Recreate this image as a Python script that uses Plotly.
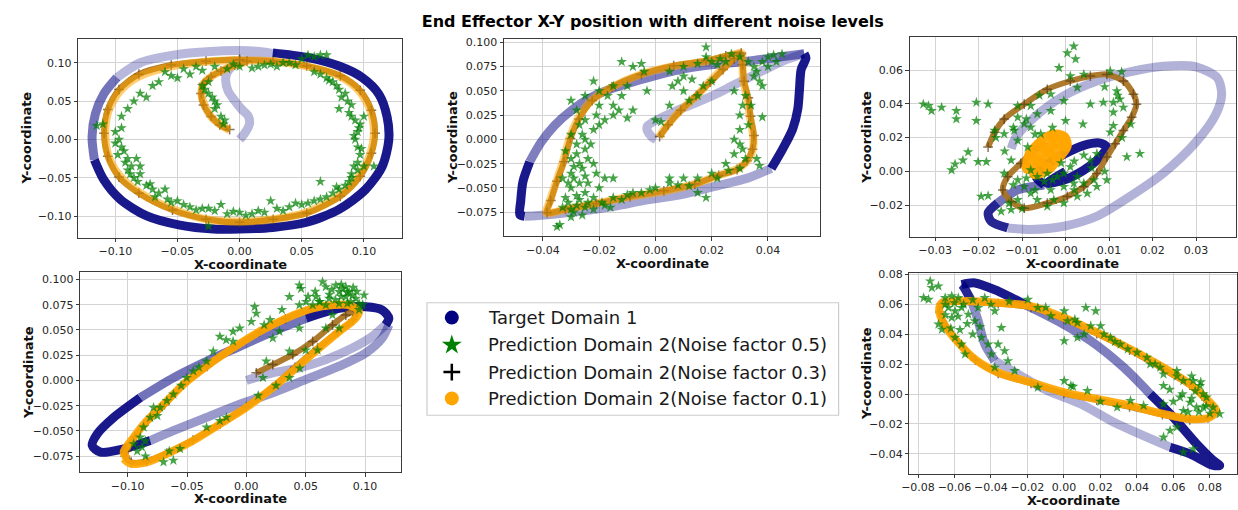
import plotly.graph_objects as go

W, H = 1238, 510

# ---------------------------------------------------------------- data
# tick values
p1_xticks = [-0.10, -0.05, 0.0, 0.05, 0.10]
p1_yticks = [-0.10, -0.05, 0.0, 0.05, 0.10]
p2_xticks = [-0.04, -0.02, 0.0, 0.02, 0.04]
p2_yticks = [-0.075, -0.05, -0.025, 0.0, 0.025, 0.05, 0.075, 0.1]
p3_xticks = [-0.03, -0.02, -0.01, 0.0, 0.01, 0.02, 0.03]
p3_yticks = [-0.02, 0.0, 0.02, 0.04, 0.06]
p4_xticks = [-0.10, -0.05, 0.0, 0.05, 0.10]
p4_yticks = [-0.075, -0.05, -0.025, 0.0, 0.025, 0.05, 0.075, 0.1]
p5_xticks = [-0.08, -0.06, -0.04, -0.02, 0.0, 0.02, 0.04, 0.06, 0.08]
p5_yticks = [-0.04, -0.02, 0.0, 0.02, 0.04, 0.06, 0.08]

series_names = ["Target Domain 1",
                "Prediction Domain 2(Noise factor 0.5)",
                "Prediction Domain 2(Noise factor 0.3)",
                "Prediction Domain 2(Noise factor 0.1)"]

# ---- panel 1
p1_target = [(0.0, 0.0), (0.004, 0.0077), (0.008, 0.0206), (0.0067, 0.0313), (0.0013, 0.0399), (-0.004, 0.0506),
             (-0.0093, 0.0635), (-0.0112, 0.0764), (-0.0101, 0.0871), (-0.0027, 0.1), (0.008, 0.107), (0.0267, 0.1129),
             (0.0, 0.1159), (-0.0267, 0.1142), (-0.0533, 0.1099), (-0.08, 0.1), (-0.0987, 0.0807), (-0.1093, 0.0592),
             (-0.116, 0.0335), (-0.1187, 0.0034), (-0.1168, -0.0266), (-0.1093, -0.0524), (-0.096, -0.0781),
             (-0.0747, -0.0996), (-0.048, -0.1116), (-0.0213, -0.1167), (0.0, -0.1167), (0.0267, -0.1146),
             (0.0533, -0.1082), (0.08, -0.091), (0.1013, -0.0652), (0.1147, -0.0352), (0.12, -0.0009),
             (0.1187, 0.0292), (0.112, 0.0592), (0.0987, 0.0807), (0.08, 0.0957), (0.0533, 0.1073), (0.0267, 0.1129)]
p1_orange = [(-0.008, 0.012), (-0.0147, 0.0185), (-0.0227, 0.0292), (-0.028, 0.0442), (-0.0307, 0.0592),
             (-0.0293, 0.0721), (-0.024, 0.0807), (-0.016, 0.0884), (-0.0053, 0.0957), (0.0053, 0.1013),
             (0.0, 0.103), (-0.0267, 0.1013), (-0.0533, 0.0957), (-0.08, 0.0828), (-0.096, 0.0635), (-0.1053, 0.0378),
             (-0.108, 0.0077), (-0.1053, -0.0223), (-0.096, -0.0481), (-0.08, -0.0695), (-0.0533, -0.091),
             (-0.0267, -0.1039), (0.0, -0.1069), (0.0267, -0.1039), (0.0533, -0.0953), (0.08, -0.0738),
             (0.096, -0.0481), (0.1053, -0.018), (0.108, 0.0077), (0.1053, 0.0378), (0.096, 0.0635), (0.08, 0.0828),
             (0.0533, 0.0957), (0.0267, 0.1021), (0.0, 0.103)]
p1_plus = [(-0.008, 0.013), (-0.016, 0.019), (-0.023, 0.03), (-0.029, 0.045), (-0.031, 0.06), (-0.029, 0.073),
           (-0.023, 0.082), (-0.015, 0.089), (-0.004, 0.097), (0.006, 0.102), (0.0, 0.104), (-0.027, 0.102),
           (-0.055, 0.097), (-0.081, 0.085), (-0.097, 0.065), (-0.106, 0.039), (-0.109, 0.008), (-0.106, -0.022),
           (-0.097, -0.049), (-0.081, -0.07), (-0.054, -0.092), (-0.027, -0.104), (0.0, -0.108), (0.027, -0.104),
           (0.054, -0.096), (0.081, -0.074), (0.097, -0.048), (0.106, -0.018), (0.109, 0.008), (0.106, 0.038),
           (0.097, 0.064), (0.081, 0.083), (0.054, 0.096), (0.027, 0.102), (0.0, 0.104)]
p1_green = [(0.055, 0.11), (0.06, 0.108), (0.065, 0.11), (0.07, 0.11), (0.05, 0.105), (0.04, 0.1), (0.03, 0.095),
            (0.02, 0.097), (0.01, 0.093), (-0.005, 0.098), (-0.02, 0.095), (-0.03, 0.09), (-0.045, 0.092),
            (-0.06, 0.088), (-0.05, 0.08), (-0.03, 0.07), (-0.025, 0.06), (-0.02, 0.05), (-0.02, 0.04),
            (-0.015, 0.03), (-0.013, 0.02), (-0.025, 0.075), (-0.07, 0.07), (-0.08, 0.06), (-0.085, 0.05),
            (-0.09, 0.04), (-0.075, 0.055), (-0.095, 0.03), (-0.115, 0.018), (-0.11, 0.02), (-0.1, 0.01),
            (-0.1, -0.005), (-0.095, -0.01), (-0.098, -0.02), (-0.092, -0.03), (-0.09, -0.04), (-0.085, -0.05),
            (-0.08, -0.045), (-0.087, -0.035), (-0.075, -0.06), (-0.07, -0.065), (-0.065, -0.07), (-0.06, -0.065),
            (-0.083, -0.025), (-0.08, -0.035), (-0.05, -0.08), (-0.045, -0.085), (-0.04, -0.088), (-0.03, -0.09),
            (-0.02, -0.093), (-0.01, -0.097), (0.0, -0.095), (0.01, -0.097), (0.02, -0.095), (0.03, -0.09),
            (0.04, -0.088), (0.05, -0.085), (0.06, -0.08), (0.07, -0.075), (-0.025, -0.113), (0.025, -0.08),
            (-0.015, -0.085), (0.08, -0.065), (0.085, -0.06), (0.09, -0.05), (0.095, -0.04), (0.095, -0.03),
            (0.097, -0.02), (0.095, -0.01), (0.093, 0.0), (0.095, 0.01), (0.097, 0.02), (0.09, 0.03), (0.09, 0.045),
            (0.085, 0.06), (0.08, 0.065), (0.075, 0.075), (0.07, 0.08), (0.06, 0.088), (0.065, 0.085),
            (0.1, -0.035), (0.1, 0.03), (0.088, -0.055), (0.065, -0.055), (0.08, 0.04), (0.108, -0.035),
            (-0.055, -0.082), (-0.035, -0.092), (-0.025, -0.09), (-0.005, -0.094), (0.005, -0.099), (0.015, -0.093),
            (0.035, -0.093), (0.045, -0.083), (0.055, -0.083), (0.065, -0.078), (0.075, -0.07), (0.078, -0.062),
            (0.09, -0.045), (0.092, -0.035), (0.098, -0.012), (0.092, 0.005), (0.096, 0.015), (0.093, 0.025),
            (0.088, 0.035), (0.087, 0.05), (0.082, 0.055), (0.078, 0.07), (0.072, 0.077), (0.045, 0.097),
            (0.035, 0.1), (0.025, 0.098), (0.015, 0.095), (0.0, 0.095), (-0.01, 0.092), (-0.035, 0.095),
            (-0.04, 0.085), (-0.055, 0.083), (-0.065, 0.075), (-0.095, 0.015), (-0.097, 0.0), (-0.093, -0.015),
            (-0.09, -0.025), (-0.088, -0.045), (-0.082, -0.055), (-0.072, -0.058), (-0.068, -0.075),
            (-0.058, -0.078), (-0.028, 0.065), (-0.022, 0.055), (-0.018, 0.045), (-0.012, 0.025)]

# ---- panel 2
p2_target = [(0.0002, 0.0), (-0.0012, 0.0024), (-0.0029, 0.0092), (-0.0029, 0.0136), (0.0088, 0.0313),
             (0.0124, 0.0353), (0.0206, 0.0455), (0.0276, 0.0557), (0.0324, 0.0625), (0.0394, 0.0727),
             (0.0465, 0.0822), (0.0529, 0.0883), (0.0535, 0.0839), (0.0518, 0.072), (0.0512, 0.0517),
             (0.0506, 0.0313), (0.0488, 0.0109), (0.0453, -0.0095), (0.0412, -0.0299), (0.0324, -0.0401),
             (0.0206, -0.0486), (0.0088, -0.0571), (-0.0029, -0.0622), (-0.0147, -0.069), (-0.0265, -0.0741),
             (-0.0382, -0.0775), (-0.0465, -0.0792), (-0.0482, -0.0775), (-0.0479, -0.0639), (-0.0471, -0.0435),
             (-0.0447, -0.0231), (-0.0406, -0.0027), (-0.0359, 0.0143), (-0.03, 0.0296), (-0.0229, 0.0432),
             (-0.0147, 0.0533), (-0.0029, 0.0635), (0.0088, 0.072), (0.0206, 0.0771), (0.0324, 0.0805),
             (0.0441, 0.0849), (0.0529, 0.0883)]
p2_orange = [(0.0012, 0.0024), (0.0041, 0.0143), (0.0088, 0.0296), (0.0147, 0.0449), (0.0194, 0.0601),
             (0.0241, 0.0737), (0.0276, 0.0839), (0.0306, 0.089), (0.0309, 0.0788), (0.0312, 0.0618),
             (0.0324, 0.0449), (0.0335, 0.0245), (0.0347, 0.0041), (0.0347, -0.0095), (0.0329, -0.0214),
             (0.0294, -0.0299), (0.0229, -0.0367), (0.0147, -0.0452), (0.0029, -0.0537), (-0.0088, -0.0588),
             (-0.0206, -0.0656), (-0.0324, -0.0724), (-0.0388, -0.0758), (-0.0376, -0.0639), (-0.0353, -0.0435),
             (-0.0329, -0.0231), (-0.0306, 0.0007), (-0.0276, 0.0211), (-0.0229, 0.0398), (-0.0159, 0.0533),
             (-0.0053, 0.0669), (0.0065, 0.0754), (0.0182, 0.0805), (0.0253, 0.0856), (0.0306, 0.0897)]
p2_plus = [(0.0015, 0.003), (0.0045, 0.015), (0.009, 0.03), (0.0145, 0.045), (0.0195, 0.059), (0.024, 0.072),
           (0.028, 0.083), (0.0305, 0.088), (0.031, 0.077), (0.0315, 0.06), (0.033, 0.043), (0.0338, 0.024),
           (0.035, 0.004), (0.0345, -0.01), (0.0325, -0.022), (0.029, -0.031), (0.0225, -0.037), (0.014, -0.046),
           (0.003, -0.053), (-0.009, -0.059), (-0.021, -0.066), (-0.032, -0.072), (-0.0385, -0.0755),
           (-0.0372, -0.063), (-0.035, -0.043), (-0.0325, -0.023), (-0.0302, 0.001), (-0.0272, 0.021),
           (-0.0225, 0.04), (-0.0155, 0.054), (-0.005, 0.067), (0.0065, 0.076), (0.018, 0.081), (0.025, 0.086),
           (0.0305, 0.089)]
p2_green = [(-0.033, -0.07), (-0.03, -0.072), (-0.028, -0.068), (-0.025, -0.07), (-0.022, -0.072), (-0.035, -0.09),
            (-0.034, -0.088), (-0.03, -0.08), (-0.032, -0.06), (-0.028, -0.058), (-0.025, -0.055), (-0.022, -0.06),
            (-0.03, -0.05), (-0.027, -0.045), (-0.024, -0.045), (-0.02, -0.05), (-0.033, -0.04), (-0.03, -0.035),
            (-0.026, -0.03), (-0.022, -0.025), (-0.018, -0.04), (-0.015, -0.04), (-0.03, -0.02), (-0.028, -0.015),
            (-0.025, -0.01), (-0.028, -0.005), (-0.025, 0.0), (-0.03, 0.005), (-0.022, 0.01), (-0.02, 0.015),
            (-0.027, 0.015), (-0.025, 0.02), (-0.018, 0.02), (-0.015, 0.025), (-0.01, 0.022), (-0.02, 0.035),
            (-0.015, 0.035), (-0.03, 0.04), (-0.025, 0.045), (-0.02, 0.05), (-0.022, 0.06), (-0.015, 0.055),
            (-0.013, 0.03), (-0.008, 0.03), (-0.01, 0.055), (-0.012, 0.08), (-0.008, 0.075), (-0.004, 0.07),
            (-0.005, 0.078), (0.0, 0.02), (0.002, 0.018), (0.005, 0.07), (0.01, 0.075), (0.015, 0.078),
            (0.018, 0.095), (0.018, 0.085), (0.02, 0.08), (0.022, 0.077), (0.025, 0.08), (0.03, 0.085),
            (0.033, 0.08), (0.035, 0.075), (0.038, 0.08), (0.04, 0.085), (0.042, 0.087), (0.045, 0.088),
            (0.04, 0.075), (0.036, 0.07), (0.035, 0.065), (0.037, 0.06), (0.038, 0.055), (0.008, 0.06),
            (0.01, 0.05), (0.012, 0.04), (0.005, 0.035), (0.015, 0.045), (0.017, 0.055), (0.02, 0.06),
            (0.013, 0.062), (0.03, 0.025), (0.03, 0.01), (0.028, 0.0), (0.03, -0.005), (0.028, -0.015),
            (0.032, -0.02), (0.03, -0.03), (0.025, -0.025), (0.036, -0.02), (0.037, -0.027), (0.038, 0.023),
            (0.034, 0.035), (0.032, 0.045), (0.028, 0.05), (0.02, -0.035), (0.015, -0.04), (0.01, -0.04),
            (0.005, -0.045), (0.0, -0.05), (-0.005, -0.055), (-0.01, -0.057), (-0.015, -0.06), (0.015, -0.055),
            (0.018, -0.06), (0.012, -0.048), (-0.018, -0.068), (0.005, -0.04),
            (-0.031, -0.065), (-0.027, -0.062), (-0.024, -0.065), (-0.029, -0.075), (-0.026, -0.078),
            (-0.031, -0.045), (-0.029, -0.04), (-0.025, -0.038), (-0.021, -0.035), (-0.027, -0.025),
            (-0.024, -0.02), (-0.029, -0.028), (-0.032, -0.012), (-0.026, 0.005), (-0.023, -0.005),
            (-0.021, 0.025), (-0.028, 0.03), (-0.017, 0.045), (-0.012, 0.045), (-0.019, -0.065), (-0.016, -0.07),
            (0.023, 0.083), (0.027, 0.088), (0.043, 0.08), (0.031, 0.035), (0.033, 0.015), (0.031, -0.01),
            (0.026, -0.032), (0.022, -0.04), (0.008, -0.047), (-0.002, -0.052), (-0.008, -0.055),
            (-0.012, -0.062), (0.01, 0.065), (0.006, 0.055), (-0.003, 0.05)]

# ---- panel 3
p3_target = [(0.0, 0.0), (-0.0042, -0.007), (-0.0004, -0.0051), (0.0042, 0.0008), (0.008, 0.0086), (0.0095, 0.0144),
             (0.008, 0.0168), (0.0042, 0.0154), (-0.0004, 0.0101), (-0.0049, 0.0027), (-0.0068, -0.0031),
             (-0.0049, -0.008), (-0.011, -0.0109), (-0.0156, -0.0187), (-0.0178, -0.0246), (-0.0171, -0.0295),
             (-0.0133, -0.0334), (-0.008, -0.0343), (-0.0004, -0.0324), (0.0072, -0.0265), (0.0148, -0.0148),
             (0.0224, -0.0012), (0.03, 0.0174), (0.0346, 0.034), (0.0359, 0.0457), (0.0349, 0.0554), (0.03, 0.0619),
             (0.0224, 0.0622), (0.0148, 0.0589), (0.0072, 0.0535), (-0.0004, 0.0447), (-0.0072, 0.032),
             (-0.0114, 0.0203), (-0.0125, 0.0135)]
p3_orange = [(-0.0087, 0.002), (-0.008, 0.01), (-0.006, 0.016), (-0.003, 0.021), (-0.0005, 0.02), (0.0, 0.015),
             (-0.002, 0.008), (-0.004, 0.002), (-0.007, -0.001), (-0.006, 0.006), (-0.004, 0.012), (-0.002, 0.017)]
p3_plus = [(-0.0178, 0.0144), (-0.0163, 0.0232), (-0.0141, 0.031), (-0.0095, 0.0398), (-0.0042, 0.0486),
           (0.0011, 0.0535), (0.0057, 0.0564), (0.0095, 0.0574), (0.0133, 0.0535), (0.0156, 0.0457),
           (0.0163, 0.0398), (0.0152, 0.032), (0.0133, 0.0242), (0.0114, 0.0164), (0.0095, 0.0086),
           (0.0072, -0.0012), (0.0042, -0.009), (0.0004, -0.0148), (-0.0042, -0.0187), (-0.0095, -0.0217),
           (-0.0125, -0.0178), (-0.0144, -0.0109), (-0.0133, -0.0031), (-0.0103, 0.0047), (-0.0072, 0.0125),
           (-0.0049, 0.0164)]
p3_green = [(-0.0327, 0.0398), (-0.0315, 0.0388), (-0.0308, 0.0359), (-0.0285, 0.0379), (-0.0251, 0.0359),
            (-0.0251, 0.031), (-0.0205, 0.0408), (-0.0178, 0.0398), (-0.0205, 0.03), (-0.0224, 0.0115),
            (-0.0236, 0.0066), (-0.0254, 0.0043), (-0.0262, 0.0008), (-0.0201, 0.0057), (-0.0182, 0.0057),
            (-0.0194, -0.0148), (-0.0178, -0.0144), (-0.0148, -0.0236), (-0.0125, -0.0226), (0.0004, 0.07),
            (0.0019, 0.074), (0.0023, 0.0665), (-0.0015, 0.0613), (0.0011, 0.0564), (0.0042, 0.0574),
            (0.0103, 0.0593), (0.0129, 0.0589), (0.0027, 0.0496), (-0.0034, 0.0457), (-0.0004, 0.0418),
            (0.0057, 0.0398), (0.0087, 0.0408), (0.011, 0.0408), (0.0125, 0.0427), (0.0118, 0.0476),
            (0.0133, 0.0379), (-0.011, 0.0388), (-0.008, 0.0388), (-0.0065, 0.034), (-0.011, 0.032),
            (-0.0034, 0.0359), (0.0141, 0.0086), (0.0171, 0.0105), (0.0095, -0.0051), (0.0103, 0.0232),
            (0.011, 0.0271), (-0.0163, 0.0242), (-0.0141, 0.0222), (-0.0118, 0.0242), (-0.0095, 0.0281),
            (-0.008, 0.0261), (-0.0057, 0.0222), (-0.011, 0.0183), (-0.0087, 0.0144), (-0.0125, 0.0066),
            (-0.0141, -0.0012), (-0.011, -0.0051), (-0.0095, -0.009), (-0.008, -0.0129), (-0.011, -0.0168),
            (-0.0065, -0.0168), (-0.0034, -0.0109), (-0.0004, -0.009), (0.0019, -0.007), (-0.0019, -0.0031),
            (-0.0004, -0.0012), (0.0011, 0.0027), (0.0027, -0.0031), (0.0042, -0.007), (0.0065, -0.0051),
            (0.0072, -0.009), (0.0057, 0.0066), (0.0072, 0.0105), (0.0042, 0.0096), (-0.0042, -0.0012),
            (-0.0049, -0.006), (-0.0065, -0.0031), (-0.0027, -0.0168), (-0.0004, -0.0187), (0.0027, -0.0148),
            (-0.0042, -0.0207), (-0.008, 0.0008),
            (-0.014, 0.012), (-0.016, 0.02), (-0.012, 0.026), (-0.007, 0.022), (-0.003, 0.026), (0.0, 0.03),
            (0.004, 0.028), (-0.009, -0.004), (-0.012, -0.008), (-0.007, -0.011), (-0.003, -0.005),
            (0.002, -0.011), (0.005, -0.013), (0.006, 0.002), (0.009, 0.0), (-0.001, 0.005), (0.002, 0.006),
            (0.011, 0.035), (0.012, 0.045), (0.009, 0.05), (-0.006, 0.045), (-0.009, 0.031), (-0.013, -0.019),
            (-0.01, -0.022), (0.013, 0.02), (0.015, 0.028)]

# ---- panel 4
p4_target = [(0.0, 0.0), (0.0056, 0.002), (0.0223, 0.0075), (0.0447, 0.0124), (0.067, 0.0206), (0.0894, 0.0321),
             (0.1061, 0.0435), (0.1173, 0.055), (0.1201, 0.0615), (0.1145, 0.0697), (0.1006, 0.0729),
             (0.0782, 0.0713), (0.0503, 0.0615), (0.0223, 0.0484), (-0.0056, 0.0337), (-0.0335, 0.019),
             (-0.0615, 0.0026), (-0.0894, -0.017), (-0.1117, -0.0366), (-0.1257, -0.053), (-0.1299, -0.0644),
             (-0.1229, -0.071), (-0.1034, -0.0677), (-0.081, -0.0595), (-0.0615, -0.0497), (-0.0335, -0.0366),
             (-0.0056, -0.0236), (0.0223, -0.0121), (0.0503, 0.001), (0.0782, 0.0141), (0.1006, 0.0272),
             (0.1145, 0.0419), (0.1201, 0.055)]
p4_orange = [(-0.1006, -0.0775), (-0.1034, -0.071), (-0.095, -0.0563), (-0.0838, -0.0399), (-0.0698, -0.0236),
             (-0.0531, -0.0039), (-0.0335, 0.0141), (-0.0112, 0.0321), (0.0112, 0.0484), (0.0335, 0.0615),
             (0.0559, 0.0713), (0.0726, 0.0746), (0.0866, 0.0746), (0.095, 0.068), (0.0908, 0.0599),
             (0.0782, 0.0484), (0.0615, 0.0321), (0.0419, 0.0124), (0.0223, -0.0072), (0.0, -0.0268),
             (-0.0223, -0.0432), (-0.0447, -0.0595), (-0.067, -0.0726), (-0.0838, -0.0808), (-0.0978, -0.0824),
             (-0.1034, -0.0775)]
p4_plus = [(0.0084, 0.0075), (0.0223, 0.0157), (0.0391, 0.0255), (0.0559, 0.0386), (0.0726, 0.055),
           (0.0838, 0.0648), (0.093, 0.069), (0.09, 0.06), (0.077, 0.048), (0.06, 0.032), (0.041, 0.013),
           (0.022, -0.007), (0.0, -0.026), (-0.022, -0.043), (-0.045, -0.059), (-0.067, -0.072), (-0.084, -0.08),
           (-0.097, -0.081), (-0.102, -0.075), (-0.101, -0.07), (-0.094, -0.056), (-0.083, -0.04), (-0.069, -0.024),
           (-0.053, -0.004), (-0.033, 0.014), (-0.011, 0.032), (0.011, 0.048), (0.033, 0.061), (0.055, 0.071),
           (0.072, 0.074), (0.086, 0.074), (0.093, 0.069)]
p4_green = [(0.0642, 0.0975), (0.067, 0.0926), (0.0447, 0.0942), (0.0461, 0.0909), (0.0363, 0.0828),
            (0.0587, 0.0828), (0.0754, 0.0942), (0.0782, 0.0877), (0.081, 0.0909), (0.0838, 0.0926),
            (0.0866, 0.0877), (0.0894, 0.0844), (0.0922, 0.0811), (0.0992, 0.0844), (0.0838, 0.0828),
            (0.0698, 0.0811), (0.0503, 0.0779), (0.0559, 0.0746), (0.095, 0.0762), (0.0782, 0.0762),
            (0.0852, 0.0762), (0.067, 0.0746), (0.0447, 0.0746), (0.0615, 0.0779), (0.007, 0.0729),
            (0.0084, 0.0664), (0.0042, 0.0582), (-0.0056, 0.0517), (-0.0112, 0.0386), (-0.0223, 0.0435),
            (-0.0279, 0.0288), (-0.0335, 0.019), (-0.0447, 0.0092), (-0.0503, 0.0026), (-0.0615, -0.0137),
            (-0.0726, -0.0268), (-0.081, -0.0366), (-0.0866, -0.0464), (-0.0894, -0.0563), (-0.095, -0.0628),
            (-0.088, -0.0661), (-0.0698, -0.0808), (-0.0615, -0.0792), (-0.0559, -0.0677), (-0.0782, -0.0268),
            (0.0279, 0.0484), (0.0223, 0.0419), (0.0168, 0.019), (0.0363, 0.0288), (0.0363, 0.0026),
            (0.014, 0.0026), (-0.0168, -0.0366), (-0.0223, -0.0399), (-0.0335, -0.0464), (0.0447, 0.0517),
            (0.067, 0.0517), (0.0782, 0.0517), (0.0726, 0.0648), (-0.0112, 0.0484),
            (0.07, 0.085), (0.075, 0.08), (0.08, 0.083), (0.085, 0.087), (0.088, 0.078), (0.093, 0.088),
            (0.09, 0.092), (0.08, 0.095), (0.072, 0.09), (0.058, 0.088), (0.052, 0.083), (0.062, 0.078),
            (0.098, 0.075), (0.095, 0.07), (0.03, 0.07), (0.02, 0.06), (0.015, 0.055), (-0.017, 0.04),
            (-0.04, 0.013), (-0.055, -0.005), (-0.067, -0.02), (-0.075, -0.035), (-0.085, -0.06), (-0.092, -0.07),
            (-0.085, -0.075), (-0.065, -0.07), (0.01, -0.015), (0.025, -0.005), (0.045, 0.012), (0.06, 0.03),
            (0.05, 0.03)]

# ---- panel 5
p5_target = [(-0.0561, 0.0733), (-0.0488, 0.0744), (-0.0361, 0.0689), (-0.0216, 0.06), (-0.0034, 0.0489),
             (0.0147, 0.0356), (0.0328, 0.0178), (0.0473, 0.0), (0.06, -0.0156), (0.0727, -0.0333),
             (0.0818, -0.0444), (0.0854, -0.0478), (0.0818, -0.0478), (0.0691, -0.04), (0.0582, -0.0356),
             (0.0455, -0.0289), (0.0274, -0.0189), (0.0093, -0.0067), (-0.0089, 0.0022), (-0.0252, 0.0133),
             (-0.0379, 0.0222), (-0.0434, 0.0333), (-0.047, 0.0489), (-0.0506, 0.0622), (-0.0552, 0.0722),
             (-0.0561, 0.0733)]
p5_orange = [(-0.0669, 0.0611), (-0.0542, 0.0622), (-0.0361, 0.0611), (-0.018, 0.0589), (0.0002, 0.0511),
             (0.0183, 0.0411), (0.0365, 0.03), (0.0546, 0.0178), (0.0691, 0.0067), (0.0782, -0.0033),
             (0.0836, -0.0111), (0.08, -0.0156), (0.0691, -0.0167), (0.0546, -0.0133), (0.0365, -0.0078),
             (0.0183, -0.0033), (0.0002, 0.0011), (-0.018, 0.0078), (-0.0361, 0.0144), (-0.0488, 0.0233),
             (-0.0579, 0.0344), (-0.0651, 0.0456), (-0.0684, 0.0556), (-0.0669, 0.0611)]
p5_plus = [(-0.067, 0.0605), (-0.054, 0.0615), (-0.036, 0.0605), (-0.018, 0.058), (0.0, 0.0505), (0.018, 0.0405),
           (0.036, 0.0295), (0.054, 0.017), (0.069, 0.006), (0.078, -0.004), (0.083, -0.0115), (0.079, -0.016),
           (0.069, -0.0172), (0.054, -0.0138), (0.036, -0.0085), (0.018, -0.004), (0.0, 0.0005), (-0.018, 0.0072),
           (-0.036, 0.0138), (-0.0485, 0.0228), (-0.0575, 0.034), (-0.0645, 0.0452), (-0.068, 0.055),
           (-0.067, 0.0605)]
p5_green = [(-0.0733, 0.0756), (-0.0724, 0.0711), (-0.0688, 0.0722), (-0.0769, 0.0644), (-0.0742, 0.0633),
            (-0.0651, 0.0644), (-0.0615, 0.0656), (-0.0579, 0.0644), (-0.0633, 0.0578), (-0.0597, 0.0556),
            (-0.0561, 0.0578), (-0.0524, 0.0533), (-0.0615, 0.0511), (-0.0688, 0.0467), (-0.0669, 0.0433),
            (-0.0597, 0.0378), (-0.0561, 0.0333), (-0.0542, 0.0267), (-0.0488, 0.0489), (-0.047, 0.0578),
            (-0.0434, 0.0644), (-0.0452, 0.0378), (-0.0415, 0.0333), (-0.0361, 0.0333), (-0.0325, 0.0289),
            (-0.0307, 0.0222), (-0.0397, 0.0267), (-0.0343, 0.0444), (-0.0379, 0.0556), (-0.0198, 0.0633),
            (-0.0143, 0.0578), (0.0002, 0.0556), (0.002, 0.0489), (0.0074, 0.0478), (0.012, 0.0578),
            (0.0174, 0.0556), (0.0147, 0.0456), (0.0201, 0.0456), (0.0111, 0.04), (0.0002, 0.0356),
            (0.0074, 0.0378), (0.0256, 0.0378), (0.031, 0.0333), (0.0401, 0.0278), (0.0455, 0.0244),
            (0.0528, 0.0178), (0.0546, 0.0133), (0.0619, 0.0156), (0.0655, 0.0089), (0.0709, 0.0089),
            (0.0746, 0.0056), (0.0764, 0.0), (0.0782, -0.0022), (0.0637, -0.0022), (0.0691, -0.0056),
            (0.0727, -0.0089), (0.0764, -0.0089), (0.0655, -0.0111), (0.0818, -0.0089), (0.0854, -0.0133),
            (0.0546, -0.0067), (0.0582, -0.0244), (0.0546, -0.0289), (0.0619, -0.0222), (0.0709, -0.0367),
            (0.0655, -0.0389), (0.0002, 0.0089), (0.0038, 0.0056), (0.0129, 0.0022), (-0.0143, 0.0044),
            (-0.027, 0.0156), (-0.0379, 0.0178), (-0.0071, 0.0522), (0.0365, -0.0044), (0.0292, -0.0089),
            (0.0437, -0.0078), (0.0473, 0.02), (0.0546, 0.0056),
            (-0.065, 0.06), (-0.06, 0.061), (-0.055, 0.06), (-0.05, 0.063), (-0.058, 0.052), (-0.053, 0.047),
            (-0.065, 0.053), (-0.062, 0.044), (-0.057, 0.043), (-0.05, 0.04), (-0.046, 0.045), (-0.04, 0.06),
            (-0.03, 0.062), (0.065, 0.0), (0.07, -0.003), (0.072, 0.002), (0.068, -0.012), (0.074, -0.012),
            (0.078, -0.008), (0.08, -0.013), (0.06, -0.005), (0.058, 0.003), (0.062, 0.012), (0.07, 0.012),
            (0.075, 0.008), (0.05, 0.02), (0.035, 0.03), (0.028, 0.035), (0.022, 0.04), (0.006, 0.05),
            (-0.01, 0.058), (0.005, 0.005), (0.02, -0.005)]

# ---------------------------------------------------------------- layout / styling
panels = [
    dict(box=(70.7, 34.3, 397.0, 235.0), xr=[-0.1298, 0.131], yr=[-0.128, 0.131],
         xt=p1_xticks, yt=p1_yticks, xf=".2f", yf=".2f", xtitle_y=262.5, ytitle_x=18.3,
         target=p1_target, plus=p1_plus, orange=p1_orange, green=p1_green,
         splits=[(0, 16, 0.28), (16, 20, 0.55), (20, 38, 0.9)], oa=0.55),
    dict(box=(499.3, 34.3, 817.3, 233.3), xr=[-0.0538, 0.0585], yr=[-0.0995, 0.1035],
         xt=p2_xticks, yt=p2_yticks, xf=".2f", yf=".3f", xtitle_y=261.5, ytitle_x=447.3,
         target=p2_target, plus=p2_plus, orange=p2_orange, green=p2_green,
         splits=[(0, 11, 0.28), (11, 18, 0.9), (18, 26, 0.35), (26, 30, 0.9), (30, 41, 0.5)], oa=0.5),
    dict(box=(907.7, 32.7, 1236.0, 234.0), xr=[-0.0358, 0.0392], yr=[-0.0386, 0.0793],
         xt=p3_xticks, yt=p3_yticks, xf=".2f", yf=".2f", xtitle_y=261.0, ytitle_x=863.3,
         target=p3_target, plus=p3_plus, orange=p3_orange, green=p3_green,
         splits=[(0, 11, 0.9), (11, 13, 0.55), (13, 16, 0.85), (16, 33, 0.3)], oa=0.95),
    dict(box=(72.7, 270.0, 396.0, 471.7), xr=[-0.140, 0.1307], yr=[-0.0907, 0.107],
         xt=p4_xticks, yt=p4_yticks, xf=".2f", yf=".3f", xtitle_y=498.5, ytitle_x=20.0,
         target=p4_target, plus=p4_plus, orange=p4_orange, green=p4_green,
         splits=[(0, 7, 0.3), (7, 12, 0.9), (12, 17, 0.55), (17, 23, 0.9), (23, 32, 0.4)], oa=0.9),
    dict(box=(907.3, 270.7, 1237.0, 473.3), xr=[-0.0847, 0.0949], yr=[-0.0533, 0.081],
         xt=p5_xticks, yt=p5_yticks, xf=".2f", yf=".2f", xtitle_y=500.0, ytitle_x=864.3,
         target=p5_target, plus=p5_plus, orange=p5_orange, green=p5_green,
         splits=[(0, 3, 0.9), (3, 7, 0.5), (7, 14, 0.9), (14, 20, 0.3), (20, 23, 0.45), (23, 25, 0.85)], oa=0.9),
]

FONT = "DejaVu Sans"
NAVY = "0,0,128"
fig = go.Figure()


def xy(pts):
    return [p[0] for p in pts], [p[1] for p in pts]


for i, p in enumerate(panels, start=1):
    xa, ya = "x" if i == 1 else f"x{i}", "y" if i == 1 else f"y{i}"
    # target (navy, opacity grows along the trajectory)
    for a, b, al in p["splits"]:
        tx, ty = xy(p["target"][a:b + 1])
        fig.add_trace(go.Scatter(x=tx, y=ty, mode="lines", xaxis=xa, yaxis=ya, showlegend=False,
                                 name=series_names[0], hoverinfo="skip",
                                 line=dict(color=f"rgba({NAVY},{al})", width=9, shape="spline", smoothing=0.8)))
    # noise 0.3 (plus)
    px_, py_ = xy(p["plus"])
    fig.add_trace(go.Scatter(x=px_, y=py_, mode="lines+markers", xaxis=xa, yaxis=ya, showlegend=False,
                             name=series_names[2], hoverinfo="skip",
                             line=dict(color="rgba(170,115,35,0.95)", width=6, shape="spline", smoothing=0.8),
                             marker=dict(symbol="cross-thin", size=7,
                                         line=dict(color="rgba(90,60,20,0.7)", width=1.5))))
    # noise 0.1 (orange circles)
    ox, oy = xy(p["orange"])
    if i == 3:
        fig.add_trace(go.Scatter(x=ox, y=oy, mode="lines+markers", xaxis=xa, yaxis=ya, showlegend=False,
                                 name=series_names[3], hoverinfo="skip",
                                 line=dict(color=f"rgba(255,165,0,{p['oa']})", width=12, shape="spline"),
                                 marker=dict(size=12, color=f"rgba(255,165,0,{p['oa']})")))
    else:
        fig.add_trace(go.Scatter(x=ox, y=oy, mode="lines", xaxis=xa, yaxis=ya, showlegend=False,
                                 name=series_names[3], hoverinfo="skip",
                                 line=dict(color=f"rgba(255,165,0,{p['oa']})", width=8, shape="spline",
                                           smoothing=0.8)))
    # noise 0.5 (green stars)
    gx, gy = xy(p["green"])
    fig.add_trace(go.Scatter(x=gx, y=gy, mode="markers", xaxis=xa, yaxis=ya, showlegend=False,
                             name=series_names[1], hoverinfo="skip",
                             marker=dict(symbol="star", size=8, color="rgba(0,128,0,0.72)", line=dict(width=0))))

    x0, y0, x1, y1 = p["box"]
    axis_common = dict(showline=True, mirror=True, linecolor="#3a3a3a", linewidth=1,
                       ticks="outside", ticklen=3.5, tickcolor="#3a3a3a", tickwidth=1,
                       showgrid=True, gridcolor="#d3d3d3", gridwidth=1, zeroline=False,
                       tickfont=dict(family=FONT, size=11, color="#262626"))
    fig.layout[f"xaxis{'' if i == 1 else i}"] = dict(
        axis_common, domain=[x0 / W, x1 / W], range=p["xr"], anchor=ya,
        tickvals=p["xt"], tickformat=p["xf"])
    fig.layout[f"yaxis{'' if i == 1 else i}"] = dict(
        axis_common, domain=[1 - y1 / H, 1 - y0 / H], range=p["yr"], anchor=xa,
        tickvals=p["yt"], tickformat=p["yf"])
    # axis titles
    fig.add_annotation(x=(x0 + x1) / 2 / W, y=1 - p["xtitle_y"] / H, xref="paper", yref="paper",
                       text="X-coordinate", showarrow=False, xanchor="center", yanchor="middle",
                       font=dict(family=FONT, size=13, color="#111", weight="bold"))
    fig.add_annotation(x=p["ytitle_x"] / W, y=1 - (y0 + y1) / 2 / H, xref="paper", yref="paper",
                       text="Y-coordinate", showarrow=False, xanchor="center", yanchor="middle",
                       textangle=-90, font=dict(family=FONT, size=13, color="#111", weight="bold"))

# ---------------------------------------------------------------- custom legend box
LX0, LY0, LX1, LY1 = 421.7, 300.7, 836.0, 414.3
row_y = [315.7, 343.3, 370.7, 397.3]
sym_x = 446.7
txt_x = 480.7
fig.layout["xaxis6"] = dict(domain=[LX0 / W, LX1 / W], range=[LX0, LX1], visible=False, fixedrange=True,
                            anchor="y6")
fig.layout["yaxis6"] = dict(domain=[1 - LY1 / H, 1 - LY0 / H], range=[LY1, LY0], visible=False,
                            fixedrange=True, anchor="x6")
fig.add_shape(type="rect", xref="paper", yref="paper", x0=LX0 / W, x1=LX1 / W, y0=1 - LY1 / H, y1=1 - LY0 / H,
              line=dict(color="#cccccc", width=1.2), fillcolor="white", layer="below")
legend_styles = [
    dict(symbol="circle", size=14, color="#000080", line=dict(width=0)),
    dict(symbol="star", size=15, color="#008000", line=dict(width=0)),
    dict(symbol="cross-thin", size=12, color="black", line=dict(color="black", width=2.5)),
    dict(symbol="circle", size=14, color="#FFA500", line=dict(width=0)),
]
for name, ry, ms in zip(series_names, row_y, legend_styles):
    fig.add_trace(go.Scatter(x=[sym_x], y=[ry], mode="markers", xaxis="x6", yaxis="y6", showlegend=False,
                             name=name, hoverinfo="skip", marker=ms))
    fig.add_annotation(x=txt_x / W, y=1 - ry / H, xref="paper", yref="paper", text=name, showarrow=False,
                       xanchor="left", yanchor="middle", font=dict(family=FONT, size=18, color="#1a1a1a"))

fig.update_layout(
    width=W, height=H, margin=dict(l=0, r=0, t=0, b=0),
    paper_bgcolor="white", plot_bgcolor="white", showlegend=False,
    title=dict(text="End Effector X-Y position with different noise levels", x=649 / W, y=1 - 16.5 / H,
               xanchor="center", yanchor="middle", xref="paper", yref="paper",
               font=dict(family=FONT, size=16, color="black", weight="bold")),
)

fig.write_html("out.html", config={"displayModeBar": False})
